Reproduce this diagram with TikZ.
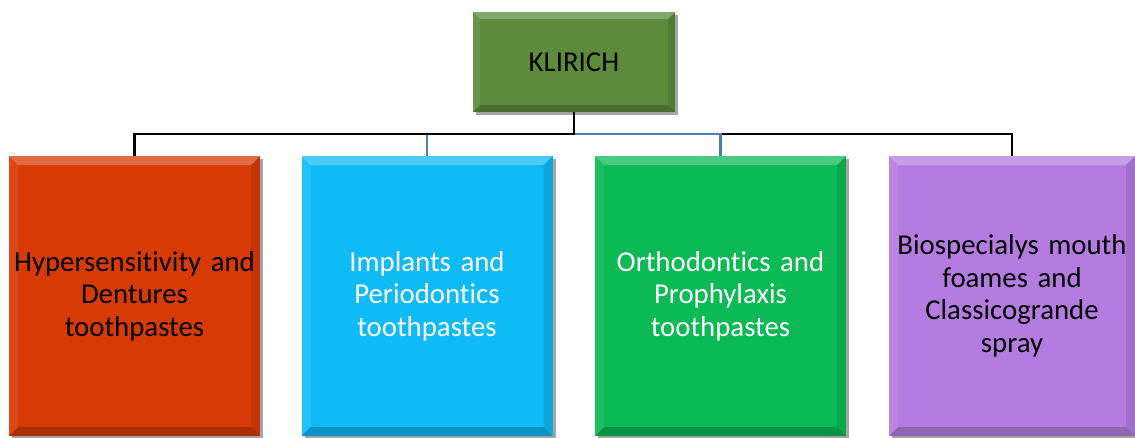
\documentclass[tikz,border=0pt]{standalone}
\usepackage{fontspec}
\setmainfont[RawFeature={-liga;-clig;-dlig}]{Carlito}
\usetikzlibrary{shadows}
\definecolor{topgreen}{HTML}{5B8B3B}
\definecolor{c1}{HTML}{D83A06}
\definecolor{c2}{HTML}{0FBBF5}
\definecolor{c3}{HTML}{0BB955}
\definecolor{c4}{HTML}{B47CE0}
\definecolor{linkblue}{HTML}{4A7EBB}
\tikzset{
  bev/.style={draw=none, rectangle, inner sep=0pt, align=center,
    font=\fontsize{28.8}{32.5}\selectfont,
    drop shadow={shadow xshift=3pt,shadow yshift=-3pt,opacity=0.35,fill=black},
    path picture={
      \fill[white,opacity=0.25] (path picture bounding box.north west) -- (path picture bounding box.north east) -- ([xshift=-#1,yshift=-#1]path picture bounding box.north east) -- ([xshift=#1,yshift=-#1]path picture bounding box.north west) -- cycle;
      \fill[black,opacity=0.2] (path picture bounding box.south west) -- (path picture bounding box.south east) -- ([xshift=-#1,yshift=#1]path picture bounding box.south east) -- ([xshift=#1,yshift=#1]path picture bounding box.south west) -- cycle;
      \fill[black,opacity=0.1] (path picture bounding box.north east) -- (path picture bounding box.south east) -- ([xshift=-#1,yshift=#1]path picture bounding box.south east) -- ([xshift=-#1,yshift=-#1]path picture bounding box.north east) -- cycle;
      \fill[white,opacity=0.08] (path picture bounding box.north west) -- (path picture bounding box.south west) -- ([xshift=#1,yshift=#1]path picture bounding box.south west) -- ([xshift=#1,yshift=-#1]path picture bounding box.north west) -- cycle;
    }},
  cat/.style={bev=9pt, minimum width=251pt, minimum height=280pt, text width=250pt},
  blk/.style={draw=black, line width=2.5pt},
  blu/.style={draw=linkblue, line width=2.2pt}
}
\begin{document}
\begin{tikzpicture}[x=1pt,y=-1pt]
\useasboundingbox (0,0) rectangle (1135,437);
\node[bev=7pt, fill=topgreen, minimum width=202pt, minimum height=100pt] (top) at (574,62) {KLIRICH};
\node[cat, fill=c1, text=black] (b1) at (134.5,296) {Hypersensitivity and\\Dentures\\toothpastes};
\node[cat, fill=c2, text=white] (b2) at (427,296) {Implants and\\Periodontics\\toothpastes};
\node[cat, fill=c3, text=white] (b3) at (720.5,296) {Orthodontics and\\Prophylaxis\\toothpastes};
\node[cat, fill=c4, text=black, minimum width=246pt, text width=246pt] (b4) at (1012,296) {Biospecialys mouth\\foames and\\Classicogrande\\spray};
\coordinate (hub) at (574,134);
\draw[blk] (top.south) -- (hub) -| (b4.north);
\draw[blu] (hub) -| (b2.north);
\draw[blu] (hub) -| (b3.north);
\draw[blk] (top.south) -- (hub) -| (b1.north);
\end{tikzpicture}
\end{document}
